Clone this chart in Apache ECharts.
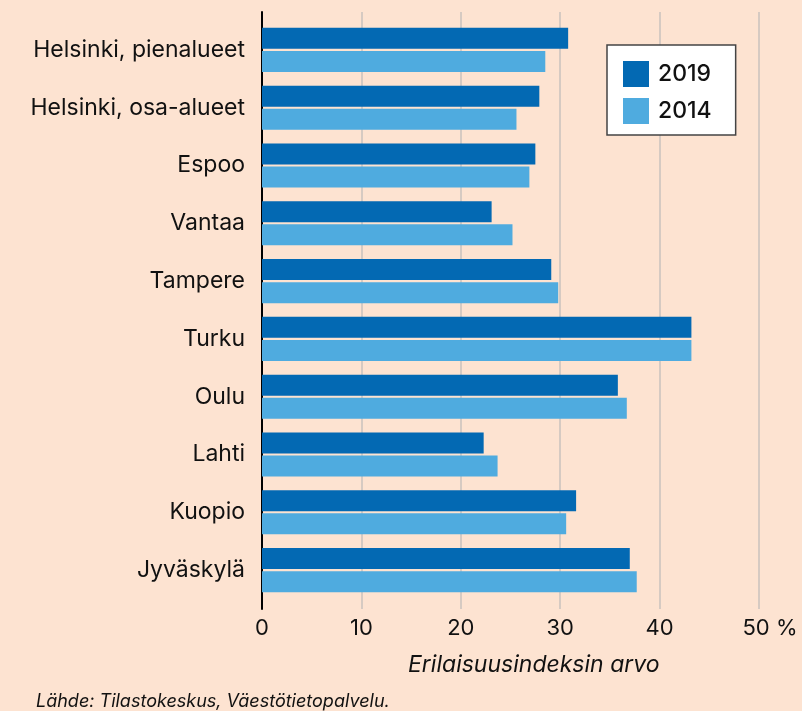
<!DOCTYPE html>
<html>
<head>
<meta charset="utf-8">
<script src="https://cdn.jsdelivr.net/npm/echarts@6/dist/echarts.min.js"></script>
<style>
html,body{margin:0;padding:0;background:#fde3d1;}
#c{width:802px;height:711px;}
</style>
</head>
<body>
<div id="c"></div>
<script>
var categories = ["Helsinki, pienalueet","Helsinki, osa-alueet","Espoo","Vantaa","Tampere","Turku","Oulu","Lahti","Kuopio","Jyväskylä"];
var values2019 = [30.8, 27.9, 27.5, 23.1, 29.1, 43.2, 35.8, 22.3, 31.6, 37.0];
var values2014 = [28.5, 25.6, 26.9, 25.2, 29.8, 43.2, 36.7, 23.7, 30.6, 37.7];
var xTicks = [0, 10, 20, 30, 40, 50];
var seriesNames = ["2019", "2014"];
var axisTitle = "Erilaisuusindeksin arvo";
var sourceText = "Lähde: Tilastokeskus, Väestötietopalvelu.";

var FONT = "Inter, 'Noto Sans', sans-serif";
var chart = echarts.init(document.getElementById('c'), null, {renderer:'canvas'});
chart.setOption({
  backgroundColor: '#fde3d1',
  animation: false,
  textStyle: {fontFamily: FONT},
  title: [
    {text: axisTitle, left: 403, top: 649, textStyle: {fontFamily: FONT, fontSize: 23, fontStyle: 'italic', fontWeight: 'normal', color: '#111'}},
    {text: sourceText, left: 31, top: 688, textStyle: {fontFamily: FONT, fontSize: 18, fontStyle: 'italic', fontWeight: 'normal', color: '#111'}}
  ],
  legend: {
    data: seriesNames,
    orient: 'vertical',
    left: 607, top: 45,
    padding: [16, 24, 11, 16],
    itemWidth: 26, itemHeight: 26, itemGap: 11,
    icon: 'rect',
    selectedMode: false,
    backgroundColor: '#ffffff',
    borderColor: '#444',
    borderWidth: 1.5,
    borderRadius: 0,
    textStyle: {fontFamily: FONT, fontSize: 23, fontWeight: 500, color: '#111', padding: [0,0,0,4]}
  },
  grid: [
    {left: 262, right: 43, top: 12, bottom: 102},
    {left: 262, right: 43, top: 21, bottom: 112}
  ],
  xAxis: [
    {gridIndex: 0, type: 'value', min: 0, max: 50, interval: 10,
     axisLine: {show: false}, axisTick: {show: false},
     splitLine: {show: true, lineStyle: {color: '#c8c2bc', width: 1.5}},
     axisLabel: {margin: 8, fontFamily: FONT, fontSize: 22, color: '#111',
       formatter: function(v){ return v === 50 ? '{s| }' + v + ' %' : String(v); },
       rich: {s: {width: 22}}
     }},
    {gridIndex: 1, type: 'value', min: 0, max: 50, show: false}
  ],
  yAxis: [
    {gridIndex: 0, type: 'category', data: categories, inverse: true,
     axisLine: {show: true, lineStyle: {color: '#000', width: 2}},
     axisTick: {show: false}, axisLabel: {show: false}, splitLine: {show: false}},
    {gridIndex: 1, type: 'category', data: categories, inverse: true,
     axisLine: {show: false}, axisTick: {show: false},
     axisLabel: {margin: 17, fontFamily: FONT, fontSize: 23, color: '#111'}}
  ],
  series: [
    {name: seriesNames[0], type: 'bar', xAxisIndex: 1, yAxisIndex: 1, data: values2019,
     barWidth: 21, barGap: '10%', itemStyle: {color: '#0369b3'}},
    {name: seriesNames[1], type: 'bar', xAxisIndex: 1, yAxisIndex: 1, data: values2014,
     barWidth: 21, barGap: '10%', itemStyle: {color: '#4fabdf'}}
  ]
});
</script>
</body>
</html>
